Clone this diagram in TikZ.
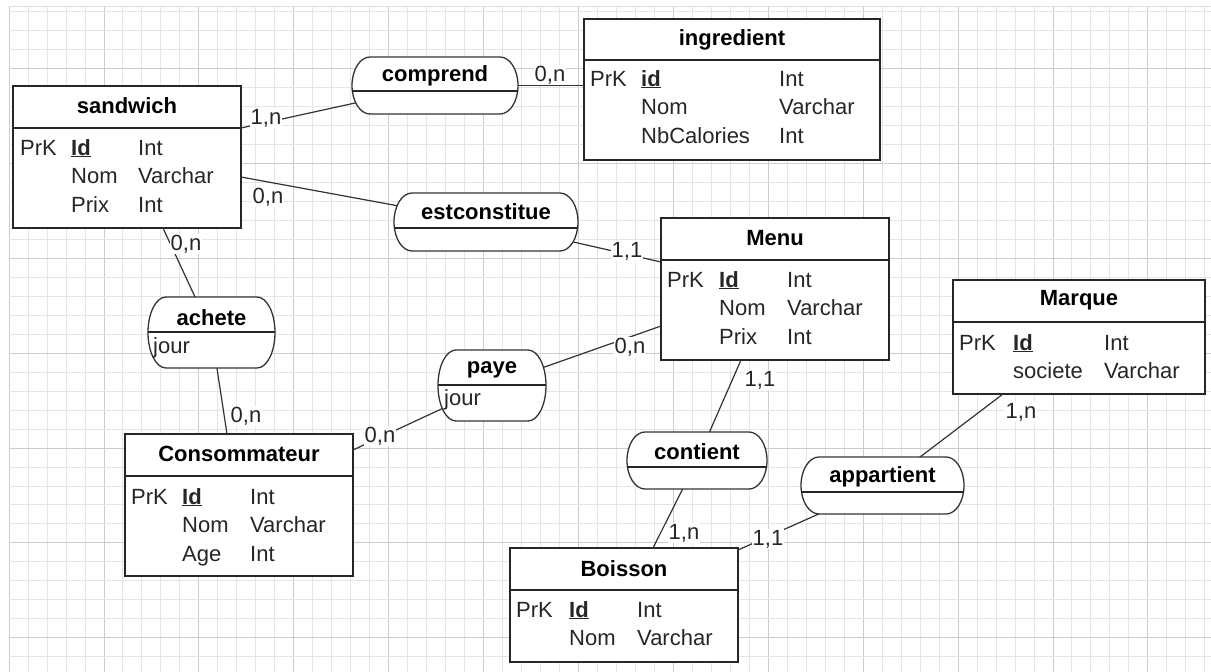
\documentclass[tikz,border=0pt]{standalone}
\usepackage{fontspec}
\setmainfont{Liberation Sans}
\usepackage{tikz}

\newcommand\cle[1]{\underline{\textbf{#1}}}
% contour arrondi d'une association (#1 nom du noeud, #2 demi-hauteur)
\newcommand\pilule[2]{\filldraw[contour] ([xshift=18pt]#1.north west) -- ([xshift=-18pt]#1.north east)
	arc[start angle=90, end angle=-90, x radius=18pt, y radius=#2]
	-- ([xshift=18pt]#1.south west)
	arc[start angle=270, end angle=90, x radius=18pt, y radius=#2] -- cycle;}

\begin{document}
\begin{tikzpicture}[x=1pt,y=-1pt,
	entite/.style={draw=black!85, line width=1.6pt, fill=white, anchor=north west, inner sep=0pt, outer sep=0pt},
	relation/.style={anchor=north west, inner sep=0pt, outer sep=0pt},
	contour/.style={draw=black!80, line width=1.3pt, fill=white},
	titre/.style={font=\fontsize{22pt}{26pt}\selectfont\bfseries, inner sep=0pt},
	attr/.style={font=\fontsize{22pt}{28.5pt}\selectfont, anchor=base west, inner sep=0pt, text=black!85},
	card/.style={font=\fontsize{22pt}{26pt}\selectfont, fill=white, inner sep=1pt, text=black!85},
	sep/.style={line width=1.4pt, draw=black!85},
	lien/.style={line width=1.2pt, draw=black!80}]
	\useasboundingbox (0,0) rectangle (1211,672);
	\fill[white] (0,0) rectangle (1211,672);
	%Grille
	\foreach \i in {0,...,63} {
		\pgfmathtruncatemacro\m{mod(\i,5)}
		\ifnum\m=0 \def\gc{black!20}\else\def\gc{black!10}\fi
		\draw[\gc, line width=0.8pt] (9+18.98*\i,6) -- (9+18.98*\i,672);
	}
	\foreach \j in {0,...,34} {
		\pgfmathtruncatemacro\m{mod(\j,5)}
		\ifnum\m=3 \def\gc{black!20}\else\def\gc{black!10}\fi
		\draw[\gc, line width=0.8pt] (9,11.4+18.98*\j) -- (1211,11.4+18.98*\j);
	}
	\draw[black!12, line width=0.8pt] (9,6) -- (1211,6);

	%Sandwich
	\node[entite, minimum width=228pt, minimum height=142pt] (sandwich) at (13,86) {};
	\draw[sep] ([yshift=-42]sandwich.north west) -- ([yshift=-42]sandwich.north east);
	\node[titre] (sandwich-t) at ([yshift=-20]sandwich.north) {sandwich};
	\node[attr] (sandwich-a) at (20,155) {\begin{tabular}[t]{@{}p{51pt}@{}p{67pt}@{}l@{}}
		PrK & \cle{Id} & Int\\ & Nom & Varchar\\ & Prix & Int\end{tabular}};
	%Ingredient
	\node[entite, minimum width=296pt, minimum height=141pt] (ingredient) at (584,19) {};
	\draw[sep] ([yshift=-41]ingredient.north west) -- ([yshift=-41]ingredient.north east);
	\node[titre] (ingredient-t) at ([yshift=-21]ingredient.north) {ingredient};
	\node[attr] (ingredient-a) at (590,86) {\begin{tabular}[t]{@{}p{51pt}@{}p{138pt}@{}l@{}}
		PrK & \cle{id} & Int\\ & Nom & Varchar\\ & NbCalories & Int\end{tabular}};
	%Menu
	\node[entite, minimum width=228pt, minimum height=142pt] (menu) at (661,218) {};
	\draw[sep] ([yshift=-42]menu.north west) -- ([yshift=-42]menu.north east);
	\node[titre] (menu-t) at ([yshift=-20]menu.north) {Menu};
	\node[attr] (menu-a) at (667,287) {\begin{tabular}[t]{@{}p{52pt}@{}p{68pt}@{}l@{}}
		PrK & \cle{Id} & Int\\ & Nom & Varchar\\ & Prix & Int\end{tabular}};
	%Marque
	\node[entite, minimum width=252pt, minimum height=114pt] (marque) at (953,280) {};
	\draw[sep] ([yshift=-42]marque.north west) -- ([yshift=-42]marque.north east);
	\node[titre] (marque-t) at ([yshift=-20]marque.north) {Marque};
	\node[attr] (marque-a) at (959,350) {\begin{tabular}[t]{@{}p{54pt}@{}p{91pt}@{}l@{}}
		PrK & \cle{Id} & Int\\ & societe & Varchar\end{tabular}};
	%Consommateur
	\node[entite, minimum width=228pt, minimum height=142pt] (consommateur) at (125,434) {};
	\draw[sep] ([yshift=-42]consommateur.north west) -- ([yshift=-42]consommateur.north east);
	\node[titre] (consommateur-t) at ([yshift=-20]consommateur.north) {Consommateur};
	\node[attr] (consommateur-a) at (131,504) {\begin{tabular}[t]{@{}p{51pt}@{}p{68pt}@{}l@{}}
		PrK & \cle{Id} & Int\\ & Nom & Varchar\\ & Age & Int\end{tabular}};
	%Boisson
	\node[entite, minimum width=228pt, minimum height=114pt] (boisson) at (510,548) {};
	\draw[sep] ([yshift=-42]boisson.north west) -- ([yshift=-42]boisson.north east);
	\node[titre] (boisson-t) at ([yshift=-21]boisson.north) {Boisson};
	\node[attr] (boisson-a) at (516,617) {\begin{tabular}[t]{@{}p{53pt}@{}p{68pt}@{}l@{}}
		PrK & \cle{Id} & Int\\ & Nom & Varchar\end{tabular}};

	%Associations (places)
	\node[relation, minimum width=166pt, minimum height=57pt] (comprend) at (352,57) {};
	\node[relation, minimum width=184pt, minimum height=58pt] (estconstitue) at (394,193) {};
	\node[relation, minimum width=127pt, minimum height=71pt] (achete) at (148,297) {};
	\node[relation, minimum width=108pt, minimum height=71pt] (paye) at (438,350) {};
	\node[relation, minimum width=140pt, minimum height=57pt] (contient) at (627,432) {};
	\node[relation, minimum width=163pt, minimum height=57pt] (appartient) at (801,457) {};

	%Liens
	\draw[lien] ([yshift=-42]sandwich.north east) -- (comprend.center);
	\draw[lien] (comprend.center) -- (comprend.center -| ingredient.west);
	\draw[lien] ([yshift=-91]sandwich.north east) -- (estconstitue.center);
	\draw[lien] (estconstitue.center) -- ([yshift=-44]menu.north west);
	\draw[lien] ([xshift=150]sandwich.south west) -- (achete.center);
	\draw[lien] (achete.center) -- ([xshift=102]consommateur.north west);
	\draw[lien] ([yshift=-16]consommateur.north east) -- (paye.center);
	\draw[lien] (paye.center) -- ([yshift=-108]menu.north west);
	\draw[lien] ([xshift=80]menu.south west) -- (contient.center);
	\draw[lien] (contient.center) -- ([xshift=143]boisson.north west);
	\draw[lien] (appartient.center) -- ([yshift=-2]boisson.north east);
	\draw[lien] ([xshift=50]marque.south west) -- (appartient.center);

	%Associations (dessin)
	\pilule{comprend}{28.5pt}
	\draw[sep] ([yshift=-34]comprend.north west) -- ([yshift=-34]comprend.north east);
	\node[titre] (comprend-t) at ([yshift=-19]comprend.north) {comprend};
	\pilule{estconstitue}{29pt}
	\draw[sep] ([yshift=-35]estconstitue.north west) -- ([yshift=-35]estconstitue.north east);
	\node[titre] (estconstitue-t) at ([yshift=-19]estconstitue.north) {estconstitue};
	\pilule{achete}{35.5pt}
	\draw[sep] ([yshift=-35]achete.north west) -- ([yshift=-35]achete.north east);
	\node[titre] (achete-t) at ([yshift=-21]achete.north) {achete};
	\node[attr] (achete-a) at ([xshift=5,yshift=-56]achete.north west) {jour};
	\pilule{paye}{35.5pt}
	\draw[sep] ([yshift=-35]paye.north west) -- ([yshift=-35]paye.north east);
	\node[titre] (paye-t) at ([yshift=-20]paye.north) {paye};
	\node[attr] (paye-a) at ([xshift=6,yshift=-55]paye.north west) {jour};
	\pilule{contient}{28.5pt}
	\draw[sep] ([yshift=-35]contient.north west) -- ([yshift=-35]contient.north east);
	\node[titre] (contient-t) at ([yshift=-20]contient.north) {contient};
	\pilule{appartient}{28.5pt}
	\draw[sep] ([yshift=-35]appartient.north west) -- ([yshift=-35]appartient.north east);
	\node[titre] (appartient-t) at ([yshift=-20]appartient.north) {appartient};

	%Cardinalites
	\node[card] (c-sw-comp) at (266,118) {1,n};
	\node[card] (c-ing-comp) at (550,75) {0,n};
	\node[card] (c-sw-est) at (268,197) {0,n};
	\node[card] (c-menu-est) at (627,251) {1,1};
	\node[card] (c-sw-ach) at (186,244) {0,n};
	\node[card] (c-cons-ach) at (246,416) {0,n};
	\node[card] (c-cons-paye) at (380,436) {0,n};
	\node[card] (c-menu-paye) at (630,347) {0,n};
	\node[card] (c-menu-cont) at (760,380) {1,1};
	\node[card] (c-bois-cont) at (684,533) {1,n};
	\node[card] (c-bois-app) at (768,539) {1,1};
	\node[card] (c-marq-app) at (1021,412) {1,n};
\end{tikzpicture}
\end{document}
